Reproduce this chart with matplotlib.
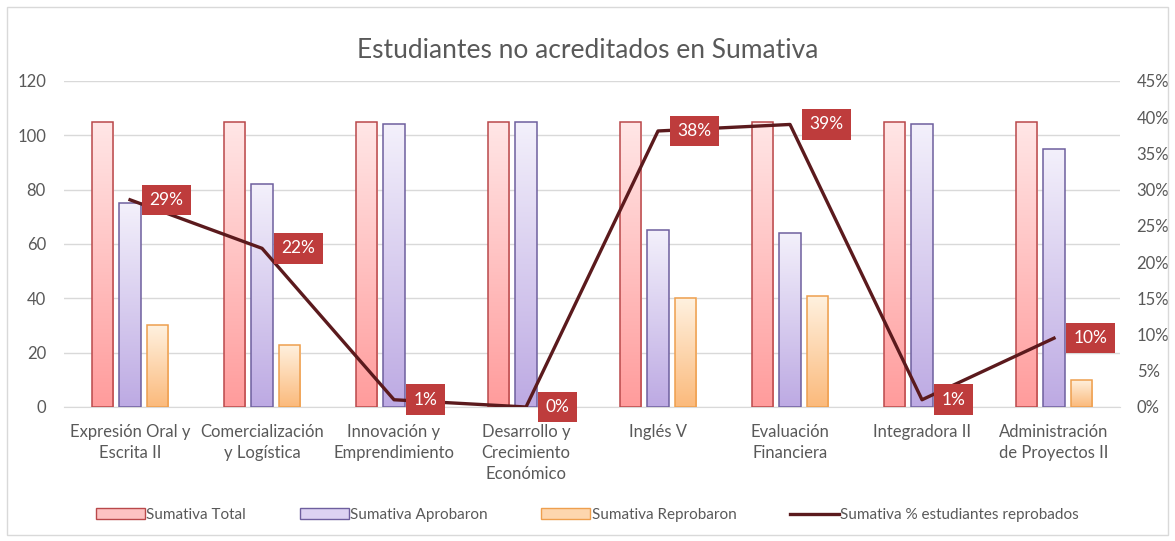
import matplotlib
matplotlib.use("Agg")
import matplotlib.pyplot as plt
from matplotlib.patches import Patch, Rectangle
from matplotlib.lines import Line2D
from matplotlib.colors import LinearSegmentedColormap
import numpy as np

plt.rcParams['font.family'] = ['Lato', 'DejaVu Sans']

materias = ["Expresión Oral y\nEscrita II", "Comercialización\ny Logística",
            "Innovación y\nEmprendimiento", "Desarrollo y\nCrecimiento\nEconómico",
            "Inglés V", "Evaluación\nFinanciera", "Integradora II",
            "Administración\nde Proyectos II"]
total = [105, 105, 105, 105, 105, 105, 105, 105]
aprobaron = [75, 82, 104, 105, 65, 64, 104, 95]
reprobaron = [30, 23, 1, 0, 40, 41, 1, 10]
pct_reprobados = [0.286, 0.219, 0.010, 0.0, 0.381, 0.390, 0.010, 0.095]

gris = "#595959"
fig = plt.figure(figsize=(11.75, 5.41), dpi=100)
fig.patches.append(Rectangle((0.006, 0.012), 0.988, 0.975, transform=fig.transFigure,
                             fill=False, edgecolor="#D9D9D9", linewidth=1))
ax = fig.add_axes([0.0545, 0.2477, 0.8987, 0.6026])
ax2 = ax.twinx()

x = np.arange(len(materias))
w = 0.16
off = 0.21

series = [
    (total, -off, "#FFE6E6", "#FF9C9C", "#B9484A", "Sumativa Total", "#FDC2C2"),
    (aprobaron, 0, "#F3F0FB", "#BDAAE3", "#6E5F9E", "Sumativa Aprobaron", "#DCD2F2"),
    (reprobaron, off, "#FFF1DF", "#FBBA7C", "#EE9F4E", "Sumativa Reprobaron", "#FDD6AE"),
]

handles = []
for vals, dx, top, bot, edge, name, mid in series:
    bars = ax.bar(x + dx, vals, width=w, color="none", edgecolor=edge,
                  linewidth=1.1, zorder=3)
    cmap = LinearSegmentedColormap.from_list(name, [bot, top])
    grad = np.linspace(0, 1, 100).reshape(-1, 1)
    for b in bars:
        if b.get_height() <= 0:
            continue
        x0, y0 = b.get_x(), b.get_y()
        im = ax.imshow(grad, cmap=cmap, aspect="auto", origin="lower",
                       extent=[x0, x0 + b.get_width(), y0, y0 + b.get_height()],
                       zorder=2)
        im.set_clip_path(b)
    handles.append(Patch(facecolor=mid, edgecolor=edge, label=name))

ax.set_xlim(-0.5, len(materias) - 0.5)
ax.set_ylim(0, 120)
ax.set_yticks(range(0, 121, 20))
ax.set_xticks(x)
ax.set_xticklabels(materias, linespacing=1.4)
ax.grid(axis="y", color="#D9D9D9", linewidth=1, zorder=0)
ax.set_axisbelow(True)
for s in ["top", "left", "right"]:
    ax.spines[s].set_visible(False)
ax.spines["bottom"].set_color("#D9D9D9")
ax.tick_params(axis="both", length=0, colors=gris, labelsize=12)
ax.tick_params(axis="x", pad=12)
ax.tick_params(axis="y", pad=13)

ax2.plot(x, pct_reprobados, color="#5B1A1D", linewidth=2.4, zorder=5)
ax2.set_ylim(0, 0.45)
ax2.set_yticks(np.arange(0, 0.451, 0.05))
ax2.set_yticklabels([f"{int(round(v * 100))}%" for v in np.arange(0, 0.451, 0.05)])
ax2.tick_params(axis="y", length=0, colors=gris, labelsize=12, pad=12)
for s in ["top", "left", "right", "bottom"]:
    ax2.spines[s].set_visible(False)
for xi, p in zip(x, pct_reprobados):
    ax2.annotate(f"{round(p * 100):.0f}%", (xi, p), xytext=(14, 0),
                 textcoords="offset points", ha="left", va="center",
                 color="white", fontsize=12.5, zorder=6,
                 bbox=dict(boxstyle="square,pad=0.42", facecolor="#BE3C3C",
                           edgecolor="none"))

handles.append(Line2D([0], [0], color="#5B1A1D", linewidth=2.4,
                      label="Sumativa % estudiantes reprobados"))
fig.legend(handles=handles, loc="center", bbox_to_anchor=(0.5, 0.048), ncol=4,
           frameon=False, fontsize=11, labelcolor=gris, handlelength=3.2,
           handletextpad=0.1, columnspacing=3.5)

fig.suptitle("Estudiantes no acreditados en Sumativa", y=0.93, fontsize=19,
             color=gris)

fig.savefig("out.png", dpi=100)
